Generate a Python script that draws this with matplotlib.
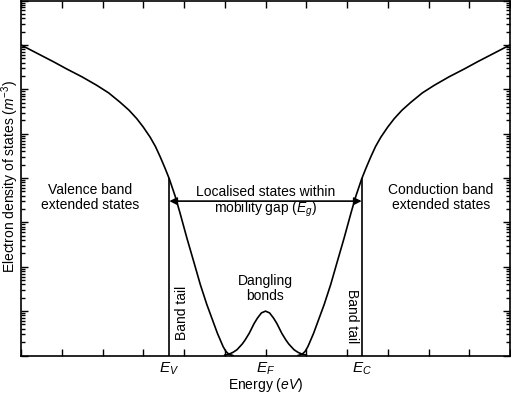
import numpy as np
import matplotlib
matplotlib.use("Agg")
import matplotlib.pyplot as plt
from matplotlib.ticker import LogLocator, MultipleLocator, NullFormatter

plt.rcParams['font.family'] = ['Liberation Sans', 'DejaVu Sans']
plt.rcParams['mathtext.fontset'] = 'custom'
plt.rcParams['mathtext.rm'] = 'Liberation Sans'
plt.rcParams['mathtext.it'] = 'Liberation Sans:italic'

# =========================
# data (energy in units of the x ticks, log10 of density)
# =========================
E_V = 3.64
E_F = 6.0
E_C = 8.36

# valence band + tail
E_val = [0.0, 0.4, 0.8, 1.12, 1.5, 1.86, 2.15, 2.43, 2.65, 2.84, 3.0, 3.17,
         3.3, 3.42, 3.54, 3.64, 3.78, 3.9, 4.07, 4.25, 4.40, 4.56, 4.72,
         4.82, 4.89, 4.96, 5.03, 5.1, 5.2]
logN_val = [7.0, 6.81, 6.62, 6.46, 6.28, 6.09, 5.92, 5.71, 5.53, 5.34, 5.15, 4.92,
            4.71, 4.47, 4.21, 3.98, 3.6, 3.22, 2.65, 2.08, 1.6, 1.15, 0.75,
            0.5, 0.35, 0.2, 0.09, 0.03, 0.0]

# conduction band + tail (same shape mirrored around E_F)
E_con = [6.8, 6.9, 6.97, 7.04, 7.11, 7.18, 7.28, 7.44, 7.6, 7.75, 7.93, 8.1,
         8.22, 8.36, 8.46, 8.58, 8.7, 8.83, 9.0, 9.16, 9.35, 9.57, 9.85,
         10.14, 10.5, 10.88, 11.2, 11.6, 12.0]
logN_con = [0.0, 0.03, 0.09, 0.2, 0.35, 0.5, 0.75, 1.15, 1.6, 2.08, 2.65, 3.22,
            3.6, 3.98, 4.21, 4.47, 4.71, 4.92, 5.15, 5.34, 5.53, 5.71, 5.92,
            6.09, 6.28, 6.46, 6.62, 6.81, 7.0]

# dangling bond peak around E_F
E_db = [5.0, 5.1, 5.2, 5.3, 5.43, 5.5, 5.6, 5.72, 5.8, 5.9, 6.0,
        6.1, 6.2, 6.28, 6.4, 6.5, 6.57, 6.7, 6.8, 6.9, 7.0]
logN_db = [0.01, 0.03, 0.07, 0.13, 0.26, 0.35, 0.5, 0.72, 0.84, 0.96, 1.0,
           0.96, 0.84, 0.72, 0.5, 0.35, 0.26, 0.13, 0.07, 0.03, 0.01]

arrow_log = 3.48

# =========================
# figure
# =========================
fig = plt.figure(figsize=(5.11, 3.97), dpi=100)
ax = fig.add_axes([21 / 511, 1 - 355.5 / 397, 489 / 511, 354.9 / 397])

lw = 1.2
ax.plot(E_val, 10 ** np.array(logN_val), color='black', lw=lw)
ax.plot(E_con, 10 ** np.array(logN_con), color='black', lw=lw)
ax.plot(E_db, 10 ** np.array(logN_db), color='black', lw=lw)

# mobility edges
ax.plot([E_V, E_V], [1, 10 ** 3.98], color='black', lw=lw)
ax.plot([E_C, E_C], [1, 10 ** 3.98], color='black', lw=lw)

ax.annotate('', xy=(E_V, 10 ** arrow_log), xytext=(E_C, 10 ** arrow_log),
            arrowprops=dict(arrowstyle='<|-|>', color='black', lw=lw,
                            shrinkA=0, shrinkB=0, mutation_scale=11))

ax.set_yscale('log')
ax.set_xlim(0, 12)
ax.set_ylim(1, 1e8)

ax.xaxis.set_major_locator(MultipleLocator(1))
ax.yaxis.set_major_locator(LogLocator(base=10, numticks=20))
ax.yaxis.set_minor_locator(LogLocator(base=10, subs=np.arange(2, 10), numticks=20))
ax.xaxis.set_major_formatter(NullFormatter())
ax.yaxis.set_major_formatter(NullFormatter())
ax.yaxis.set_minor_formatter(NullFormatter())
ax.tick_params(which='both', direction='in', top=True, right=True, width=1.0)
ax.tick_params(which='major', length=5)
ax.tick_params(which='minor', length=3)
for s in ax.spines.values():
    s.set_linewidth(1.2)

fs = 10
ax.text(E_F, 10 ** 3.68, 'Localised states within', ha='center', va='center', fontsize=fs)
ax.text(E_F, 10 ** 3.30, 'mobility gap ($E_g$)', ha='center', va='center', fontsize=fs)
ax.text(1.70, 10 ** 3.56, 'Valence band\nextended states', ha='center', va='center',
        fontsize=fs, linespacing=1.15)
ax.text(10.30, 10 ** 3.56, 'Conduction band\nextended states', ha='center', va='center',
        fontsize=fs, linespacing=1.15)
ax.text(E_F, 10 ** 1.51, 'Dangling\nbonds', ha='center', va='center',
        fontsize=fs, linespacing=1.15)
ax.text(3.95, 10 ** 0.97, 'Band tail', ha='center', va='center', rotation=90, fontsize=fs)
ax.text(8.12, 10 ** 0.88, 'Band tail', ha='center', va='center', rotation=-90, fontsize=fs)

trans = ax.get_xaxis_transform()
for e, lab in [(E_V, '$E_V$'), (E_F, '$E_F$'), (E_C, '$E_C$')]:
    ax.text(e, -0.038, lab, transform=trans, ha='center', va='center', fontsize=fs + 1)
ax.text(E_F, -0.083, 'Energy ($eV$)', transform=trans, ha='center', va='center', fontsize=fs)

fig.text(10 / 511, 1 - 177 / 397, 'Electron density of states ($m^{-3}$)',
         rotation=90, ha='center', va='center', fontsize=fs)

fig.savefig('out.png', dpi=100)
